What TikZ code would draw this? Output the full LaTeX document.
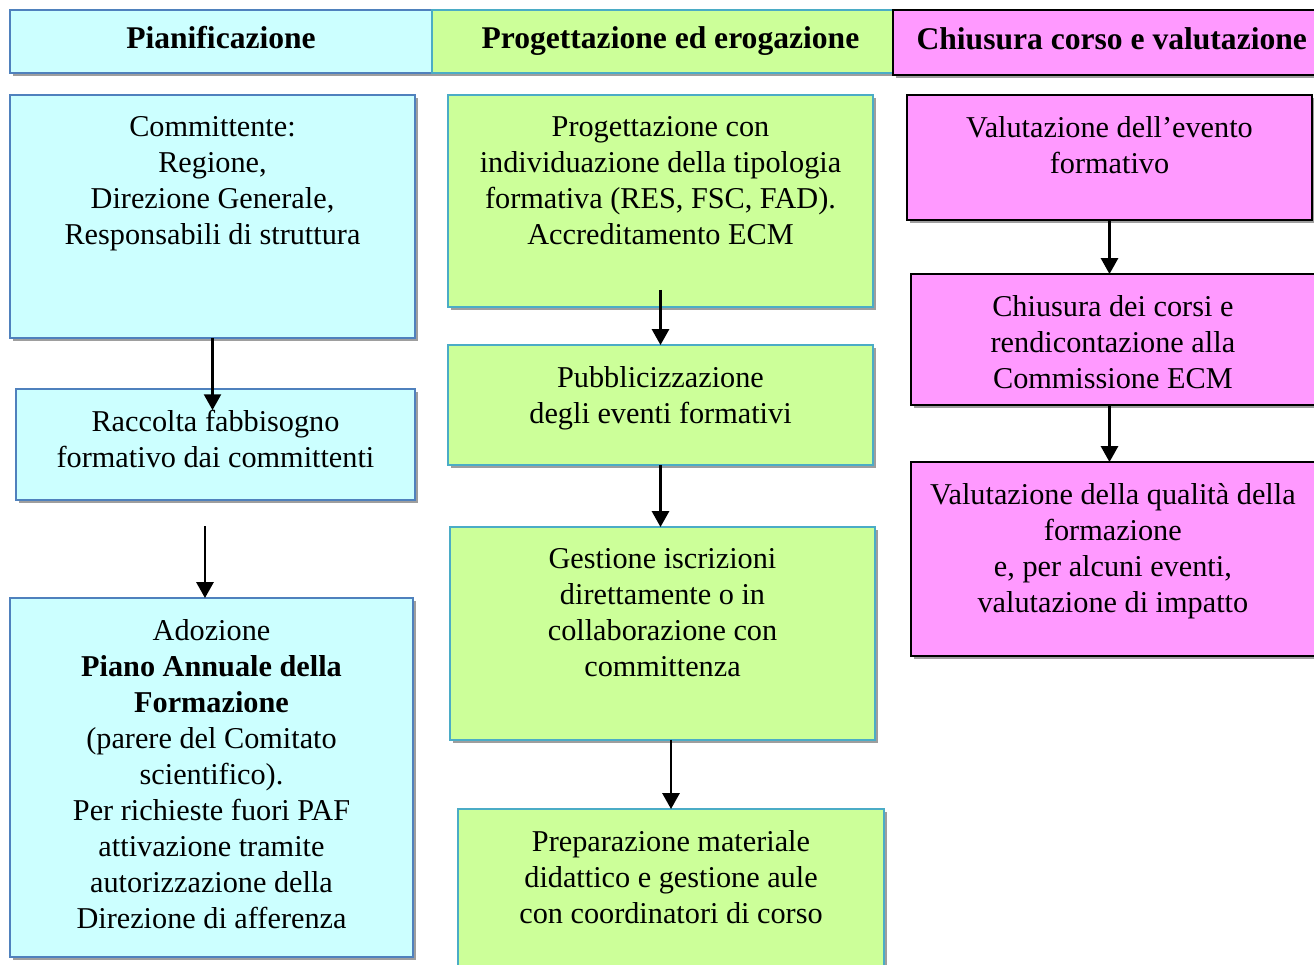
\documentclass[tikz,border=0pt]{standalone}
\usepackage{fontspec}
\setmainfont{Liberation Serif}
\usetikzlibrary{arrows.meta,fit,shadows}
\definecolor{pianFill}{HTML}{CCFFFF}
\definecolor{pianLine}{HTML}{4F81BD}
\definecolor{progFill}{HTML}{CCFF99}
\definecolor{progLine}{HTML}{4BACC6}
\definecolor{chiuFill}{HTML}{FF99FF}
\begin{document}
\begin{tikzpicture}[x=0.38pt,y=-0.38pt,
		box/.style={draw, line width=0.6pt, inner sep=0pt, outer sep=0pt,
			drop shadow={shadow xshift=1.2pt, shadow yshift=-1.3pt, fill=black!38, opacity=1}},
		pian/.style={box, draw=pianLine, fill=pianFill},
		prog/.style={box, draw=progLine, fill=progFill},
		chiu/.style={box, draw=black, fill=chiuFill},
		txt/.style={anchor=north, align=center, inner sep=0pt, yshift=-7.8pt,
			font=\fontsize{11.5}{13.7}\selectfont},
		hdr/.style={align=center, inner sep=0pt, text height=8.2pt, text depth=2.6pt,
			font=\fontsize{12}{14}\selectfont\bfseries},
		arr/.style={line width=0.8pt, -{Triangle[width=6.5pt,length=6pt]}}]
		\useasboundingbox (0,0) rectangle (1314,965);
		% intestazioni
		\node [pian, fit={(10,10) (432,73)}, label={[hdr]center:Pianificazione}] (pianH) {};
		\node [prog, fit={(432,10) (893,73)}, label={[hdr, xshift=3pt]center:Progettazione ed erogazione}] (progH) {};
		\node [chiu, line width=0.8pt, fit={(893,10) (1320,75)}, label={[hdr, xshift=2pt]center:Chiusura corso e valutazione}] (chiuH) {};
		% pianificazione
		\node [pian, fit={(10,95) (415,338)},
			label={[txt]north:{Committente:\\Regione,\\Direzione Generale,\\Responsabili di struttura}}] (comm) {};
		\node [pian, fit={(16,389) (415,500)},
			label={[txt]north:{Raccolta fabbisogno\\formativo dai committenti}}] (racc) {};
		\node [pian, fit={(10,598) (413,957)},
			label={[txt]north:{Adozione\\\textbf{Piano Annuale della}\\\textbf{Formazione}\\(parere del Comitato\\scientifico).\\Per richieste fuori PAF\\attivazione tramite\\autorizzazione della\\Direzione di afferenza}}] (adoz) {};
		% progettazione ed erogazione
		\node [prog, fit={(448,95) (873,307)},
			label={[txt]north:{Progettazione con\\individuazione della tipologia\\formativa (RES, FSC, FAD).\\Accreditamento ECM}}] (prog) {};
		\node [prog, fit={(448,345) (873,465)},
			label={[txt]north:{Pubblicizzazione\\degli eventi formativi}}] (pubb) {};
		\node [prog, fit={(450,527) (875,740)},
			label={[txt]north:{Gestione iscrizioni\\direttamente o in\\collaborazione con\\committenza}}] (gest) {};
		\node [prog, fit={(458,809) (884,990)},
			label={[txt]north:{Preparazione materiale\\didattico e gestione aule\\con coordinatori di corso}}] (prep) {};
		% chiusura e valutazione
		\node [chiu, fit={(907,95) (1312,220)},
			label={[txt]north:{Valutazione dell’evento\\formativo}}] (valE) {};
		\node [chiu, fit={(911,274) (1320,405)},
			label={[txt, xshift=-1pt]north:{Chiusura dei corsi e\\rendicontazione alla\\Commissione ECM}}] (chiuC) {};
		\node [chiu, fit={(911,462) (1320,656)},
			label={[txt, xshift=-1pt]north:{Valutazione della qualità della\\formazione\\e, per alcuni eventi,\\valutazione di impatto}}] (valQ) {};
		% frecce
		\draw [arr] (comm.south) -- ([yshift=-8pt]comm.south |- racc.north);
		\draw [arr] ([xshift=-4pt,yshift=-10pt]racc.south) -- ([xshift=-4pt]racc.south |- adoz.north);
		\draw [arr] ([yshift=6.5pt]prog.south) -- (prog.south |- pubb.north);
		\draw [arr] (pubb.south) -- (pubb.south |- gest.north);
		\draw [arr] (prep.north |- gest.south) -- (prep.north);
		\draw [arr] (valE.south) -- (valE.south |- chiuC.north);
		\draw [arr] (chiuC.south -| valE.south) -- (valE.south |- valQ.north);
\end{tikzpicture}
\end{document}
